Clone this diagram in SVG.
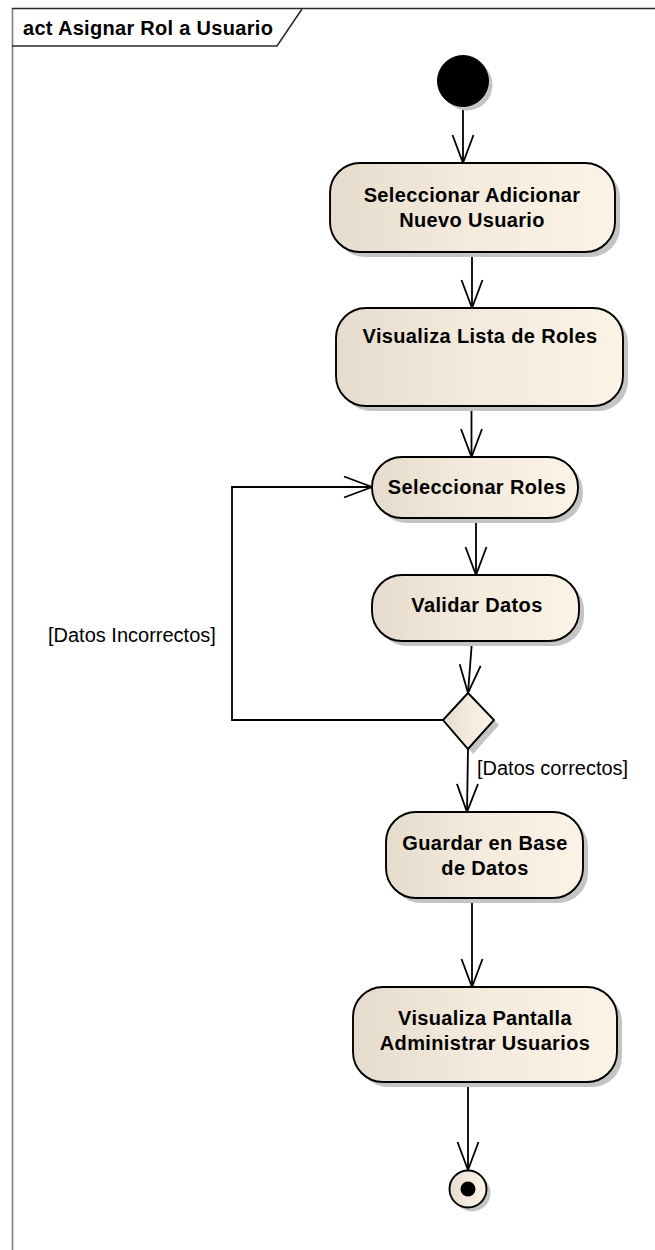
<svg xmlns="http://www.w3.org/2000/svg" width="655" height="1250" viewBox="0 0 655 1250">
  <style>
    .frame { fill: none; stroke: #2b2b2b; stroke-width: 1.6; }
    .frame-side { fill: none; stroke: #7f7f7f; stroke-width: 1.6; }
    .node { fill: url(#actFill); stroke: #000; stroke-width: 1.9; }
    .shadow { fill: #c4c4c4; stroke: none; }
    .edge { fill: none; stroke: #000; stroke-width: 1.8; }
    .label { font-family: "Liberation Sans", Arial, sans-serif; font-size: 20px; font-weight: bold; letter-spacing: 0.35px; fill: #000; text-anchor: middle; }
    .title { font-family: "Liberation Sans", Arial, sans-serif; font-size: 20px; font-weight: bold; letter-spacing: 0.3px; fill: #000; }
    .guard { font-family: "Liberation Sans", Arial, sans-serif; font-size: 20px; fill: #000; }
  </style>
  <defs>
    <linearGradient id="actFill" x1="0" y1="0" x2="1" y2="0">
      <stop offset="0" stop-color="#e6dccd"/>
      <stop offset="0.5" stop-color="#f4ebde"/>
      <stop offset="1" stop-color="#fbf3e6"/>
    </linearGradient>
    <marker id="open" markerUnits="userSpaceOnUse" markerWidth="32" markerHeight="26" viewBox="-30 -13 32 26" refX="0" refY="0" orient="auto">
      <path d="M -28 -10.5 L 0 0 L -28 10.5" fill="none" stroke="#000" stroke-width="1.8"/>
    </marker>
  </defs>

  <!-- diagram frame -->
  <g id="frame">
    <line class="frame-side" x1="12.5" y1="8" x2="12.5" y2="1250"/>
    <line class="frame" x1="12" y1="8.5" x2="655" y2="8.5"/>
    <path class="frame" d="M 12 46 L 277 46 L 302 9"/>
    <text class="title" x="23" y="35">act Asignar Rol a Usuario</text>
  </g>

  <!-- connectors -->
  <g id="connectors">
    <path class="edge" d="M 463 107 L 463 163" marker-end="url(#open)"/>
    <path class="edge" d="M 472 252 L 472 308" marker-end="url(#open)"/>
    <path class="edge" d="M 471.5 406 L 471.5 457" marker-end="url(#open)"/>
    <path class="edge" d="M 476 518 L 476 575" marker-end="url(#open)"/>
    <path class="edge" d="M 472 641 L 468 693" marker-end="url(#open)"/>
    <path class="edge" d="M 443 720 L 232 720 L 232 487 L 372 487" marker-end="url(#open)"/>
    <path class="edge" d="M 468 749 L 467 812" marker-end="url(#open)"/>
    <path class="edge" d="M 472 898 L 472 987" marker-end="url(#open)"/>
    <path class="edge" d="M 468 1082 L 468 1170" marker-end="url(#open)"/>
    <text class="guard" x="48" y="642">[Datos Incorrectos]</text>
    <text class="guard" x="477" y="775">[Datos correctos]</text>
  </g>

  <!-- initial node -->
  <g id="initial">
    <circle class="shadow" cx="467" cy="85" r="25.5"/>
    <circle cx="463" cy="81" r="25.5" fill="#000" stroke="#000" stroke-width="1"/>
  </g>

  <g id="seleccionar-adicionar">
    <rect class="shadow" x="335" y="168" width="285" height="89" rx="30"/>
    <rect class="node" x="330" y="163" width="285" height="89" rx="30"/>
    <text class="label" x="472" y="202">Seleccionar Adicionar</text>
    <text class="label" x="472" y="227">Nuevo Usuario</text>
  </g>

  <g id="visualiza-roles">
    <rect class="shadow" x="341" y="313" width="287" height="98" rx="30"/>
    <rect class="node" x="336" y="308" width="287" height="98" rx="30"/>
    <text class="label" x="480" y="343">Visualiza Lista de Roles</text>
  </g>

  <g id="seleccionar-roles">
    <rect class="shadow" x="377" y="462" width="206" height="61" rx="30"/>
    <rect class="node" x="372" y="457" width="206" height="61" rx="30"/>
    <text class="label" x="477" y="494">Seleccionar Roles</text>
  </g>

  <g id="validar-datos">
    <rect class="shadow" x="377" y="580" width="207" height="66" rx="30"/>
    <rect class="node" x="372" y="575" width="207" height="66" rx="30"/>
    <text class="label" x="477" y="612">Validar Datos</text>
  </g>

  <g id="decision">
    <path class="shadow" d="M 473 698 L 499 725 L 473 754 L 448 725 Z"/>
    <path class="node" d="M 468 693 L 494 720 L 468 749 L 443 720 Z"/>
  </g>

  <g id="guardar">
    <rect class="shadow" x="391" y="817" width="197" height="86" rx="30"/>
    <rect class="node" x="386" y="812" width="197" height="86" rx="30"/>
    <text class="label" x="485" y="850">Guardar en Base</text>
    <text class="label" x="485" y="875">de Datos</text>
  </g>

  <g id="visualiza-pantalla">
    <rect class="shadow" x="358" y="992" width="264" height="95" rx="30"/>
    <rect class="node" x="353" y="987" width="264" height="95" rx="30"/>
    <text class="label" x="485" y="1025">Visualiza Pantalla</text>
    <text class="label" x="485" y="1050">Administrar Usuarios</text>
  </g>

  <!-- final node -->
  <g id="final">
    <circle class="shadow" cx="472" cy="1193" r="18.5"/>
    <circle class="node" cx="468" cy="1189" r="18.5"/>
    <circle cx="468" cy="1189" r="7.5" fill="#000"/>
  </g>
</svg>
